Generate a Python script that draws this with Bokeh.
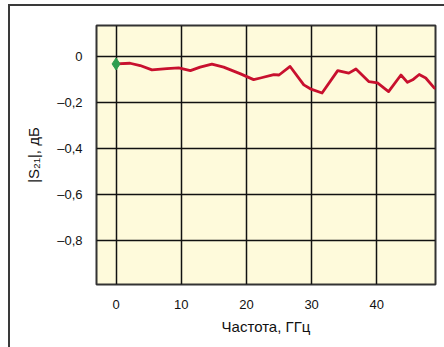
from bokeh.plotting import figure
from bokeh.models import FixedTicker, Range1d, InlineStyleSheet
from bokeh.embed import file_html
from bokeh.resources import INLINE

# Data
freq_ghz = [0, 2.15, 3.7, 5.5, 7.8, 9.6, 11.4, 12.9, 14.7, 16.5, 19.1, 21.1, 22.15,
            24.2, 25.0, 26.7, 28.8, 29.8, 31.6, 34.0, 35.7, 36.8, 38.8, 40.1,
            41.8, 43.7, 44.7, 45.5, 46.5, 47.5, 48.8, 49.0]
s21_db = [-0.032, -0.029, -0.039, -0.058, -0.052, -0.049, -0.061, -0.046, -0.033, -0.046,
          -0.075, -0.100, -0.093, -0.078, -0.080, -0.043, -0.123, -0.140, -0.158,
          -0.061, -0.072, -0.054, -0.109, -0.114, -0.152, -0.080, -0.112, -0.101,
          -0.078, -0.093, -0.136, -0.138]
marker_f = [0]
marker_v = [-0.032]

x_ticks = [0, 10, 20, 30, 40]
y_ticks = [0, -0.2, -0.4, -0.6, -0.8]
y_tick_labels = ["0", "\u20130,2", "\u20130,4", "\u20130,6", "\u20130,8"]

FONT = "Liberation Sans"

frame_css = InlineStyleSheet(css="""
:host { position: relative; }
:host::before {
  content: "";
  position: absolute;
  left: 8px; top: 4px; right: 0px; height: 2px;
  background: #3a3a3a;
  pointer-events: none;
  z-index: 10;
}
:host::after {
  content: "";
  position: absolute;
  left: 8px; top: 4px; width: 2px; bottom: 0px;
  background: #3a3a3a;
  pointer-events: none;
  z-index: 10;
}
""")

p = figure(width=444, height=347, output_backend="svg", toolbar_location=None,
           x_range=Range1d(-3, 49), y_range=Range1d(-0.99, 0.135),
           min_border_left=96, min_border_right=9, min_border_top=25,
           min_border_bottom=63, stylesheets=[frame_css])

p.background_fill_color = "#FEFADB"
p.border_fill_color = "white"
p.outline_line_color = "#333333"
p.outline_line_width = 2

p.xaxis.ticker = FixedTicker(ticks=x_ticks)
p.yaxis.ticker = FixedTicker(ticks=y_ticks)
p.yaxis.major_label_overrides = {t: l for t, l in zip(y_ticks, y_tick_labels)}

for ax in (p.xaxis[0], p.yaxis[0]):
    ax.axis_line_color = None
    ax.major_tick_line_color = None
    ax.minor_tick_line_color = None
    ax.major_label_text_font = FONT
    ax.major_label_text_font_size = "13px"
    ax.major_label_text_color = "#111111"
    ax.axis_label_text_font = FONT
    ax.axis_label_text_font_size = "15px"
    ax.axis_label_text_font_style = "normal"
    ax.axis_label_text_color = "#111111"

p.xaxis.major_label_standoff = 9
p.yaxis.major_label_standoff = 8
p.xaxis.axis_label = "Частота, ГГц"
p.yaxis.axis_label = "|S\u2082\u2081|, дБ"
p.xaxis.axis_label_standoff = 6
p.yaxis.axis_label_standoff = 12

p.xgrid.grid_line_color = "#111111"
p.ygrid.grid_line_color = "#111111"
p.xgrid.grid_line_width = 1.5
p.ygrid.grid_line_width = 1.5

p.line(freq_ghz, s21_db, line_color="#C8102E", line_width=2.8, line_join="round")
p.scatter(marker_f, marker_v, marker="diamond", size=12, fill_color="#2E9E4F",
          line_color="#2E9E4F")

html = file_html(p, INLINE)
html = html.replace("</head>",
                    "<style>html, body { overflow: hidden; }</style></head>", 1)
open("out.html", "w").write(html)
